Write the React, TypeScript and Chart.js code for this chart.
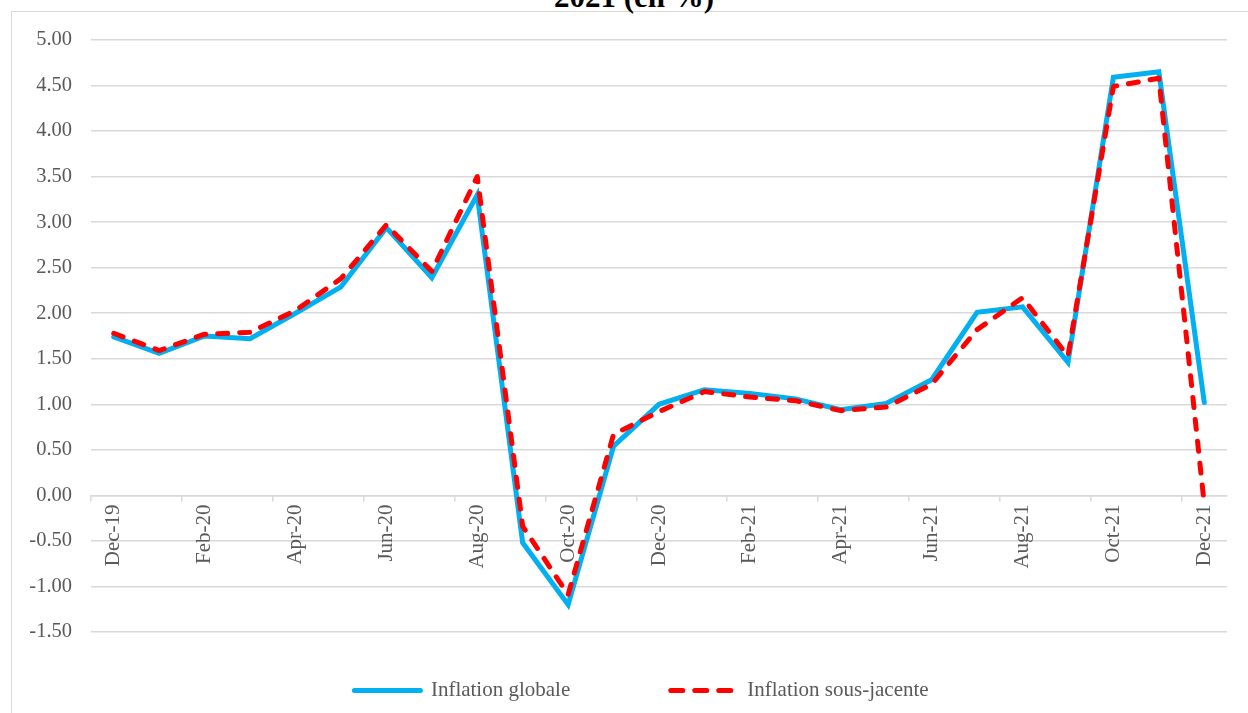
import React, { useEffect, useRef } from 'react';
import { Chart, registerables } from 'chart.js';

Chart.register(...registerables);

const categories = [
  'Dec-19', 'Jan-20', 'Feb-20', 'Mar-20', 'Apr-20', 'May-20', 'Jun-20', 'Jul-20', 'Aug-20',
  'Sep-20', 'Oct-20', 'Nov-20', 'Dec-20', 'Jan-21', 'Feb-21', 'Mar-21', 'Apr-21', 'May-21',
  'Jun-21', 'Jul-21', 'Aug-21', 'Sep-21', 'Oct-21', 'Nov-21', 'Dec-21',
];

const inflationGlobale = [
  1.74, 1.56, 1.75, 1.72, 2.0, 2.29, 2.94, 2.39, 3.3, -0.52, -1.2, 0.54, 1.0,
  1.16, 1.12, 1.06, 0.94, 1.01, 1.27, 2.01, 2.07, 1.46, 4.59, 4.65, 1.02,
];

const inflationSousJacente = [
  1.78, 1.59, 1.77, 1.79, 2.03, 2.38, 2.97, 2.46, 3.5, -0.34, -1.09, 0.67, 0.92,
  1.14, 1.08, 1.04, 0.93, 0.97, 1.22, 1.82, 2.17, 1.53, 4.49, 4.58, -0.1,
];

const seriesNames = ['Inflation globale', 'Inflation sous-jacente'];
const titleText = '2021 (en %)';
const yMin = -1.5;
const yMax = 5;
const yStep = 0.5;

const FONT = "'Liberation Serif', 'Times New Roman', serif";
const GRID = '#d9d9d9';
const TEXT = '#595959';
const BLUE = '#00B0F0';
const RED = '#FF0000';
const LINE_W = 5;
const DASH = [10, 12];
const LEGEND_DASH = [12, 12];

const legendShift: any = {
  id: 'legendShift',
  afterLayout(c: any) {
    if (c.legend) {
      c.legend.left += 28;
      c.legend.right += 28;
    }
  },
};

export default function App() {
  const ref = useRef<HTMLCanvasElement>(null);

  useEffect(() => {
    document.body.style.margin = '0';
    const canvas = ref.current;
    if (!canvas) return;
    const chart = new Chart(canvas, {
      type: 'line',
      data: {
        labels: categories,
        datasets: [
          {
            label: seriesNames[0],
            data: inflationGlobale,
            borderColor: BLUE,
            backgroundColor: BLUE,
            borderWidth: LINE_W,
            pointRadius: 0,
            tension: 0,
            borderJoinStyle: 'miter',
            borderCapStyle: 'round',
            order: 1,
          },
          {
            label: seriesNames[1],
            data: inflationSousJacente,
            borderColor: RED,
            backgroundColor: RED,
            borderWidth: LINE_W,
            borderDash: DASH,
            borderCapStyle: 'round',
            borderJoinStyle: 'round',
            pointRadius: 0,
            tension: 0,
            order: 0,
          },
        ],
      },
      plugins: [legendShift],
      options: {
        animation: false,
        responsive: false,
        maintainAspectRatio: false,
        layout: { padding: { left: 0, right: 21, top: 40, bottom: 2 } },
        plugins: {
          tooltip: { enabled: false },
          title: { display: false },
          legend: {
            position: 'bottom',
            title: {
              display: true,
              text: ' ',
              font: { size: 10, lineHeight: 1 },
              padding: { top: 0, bottom: 26 },
            },
            labels: {
              usePointStyle: true,
              pointStyle: 'line',
              pointStyleWidth: 66,
              padding: 12,
              color: TEXT,
              font: { family: FONT, size: 21 },
              generateLabels: () => {
                const blue: any = {
                  text: seriesNames[0],
                  fillStyle: 'rgba(0,0,0,0)',
                  strokeStyle: BLUE,
                  lineWidth: LINE_W,
                  lineCap: 'round',
                  lineDash: [],
                  pointStyle: 'line',
                  fontColor: TEXT,
                  hidden: false,
                  datasetIndex: 0,
                };
                const spacer: any = {
                  text: '',
                  fillStyle: 'rgba(0,0,0,0)',
                  strokeStyle: 'rgba(0,0,0,0)',
                  lineWidth: 0,
                  pointStyle: 'line',
                  hidden: false,
                };
                const red: any = {
                  text: seriesNames[1],
                  fillStyle: 'rgba(0,0,0,0)',
                  strokeStyle: RED,
                  lineWidth: LINE_W,
                  lineCap: 'round',
                  lineDash: LEGEND_DASH,
                  pointStyle: 'line',
                  fontColor: TEXT,
                  hidden: false,
                  datasetIndex: 1,
                };
                return [blue, spacer, red];
              },
            },
          },
        },
        scales: {
          x: {
            type: 'category',
            position: { y: 0 } as any,
            offset: true,
            grid: {
              display: true,
              offset: true,
              drawOnChartArea: false,
              drawTicks: true,
              tickLength: 5,
              lineWidth: 1.5,
              color: (ctx: any) =>
                typeof ctx.index === 'number' && ctx.index % 2 === 0 ? GRID : 'rgba(0,0,0,0)',
            },
            border: { display: true, color: GRID, width: 1.5 },
            ticks: {
              autoSkip: false,
              minRotation: 90,
              maxRotation: 90,
              padding: 4,
              color: TEXT,
              font: { family: FONT, size: 21 },
              callback: function (this: any, value: any, index: number) {
                return index % 2 === 0 ? this.getLabelForValue(value) : '';
              },
            },
          },
          y: {
            min: yMin,
            max: yMax,
            afterFit: (scale: any) => {
              scale.width = 91;
            },
            grid: {
              color: GRID,
              lineWidth: 1.5,
              drawTicks: false,
            },
            border: { display: false },
            ticks: {
              stepSize: yStep,
              padding: 19,
              color: TEXT,
              font: { family: FONT, size: 20.5 },
              callback: (v: any) => Number(v).toFixed(2),
            },
          },
        },
      },
    });
    return () => chart.destroy();
  }, []);

  return (
    <div
      style={{
        position: 'relative',
        width: 1248,
        height: 713,
        overflow: 'hidden',
        background: '#ffffff',
      }}
    >
      <div
        style={{
          position: 'absolute',
          left: 11,
          top: 11,
          width: 1400,
          height: 900,
          borderLeft: `1.5px solid ${GRID}`,
          borderTop: `1.5px solid ${GRID}`,
        }}
      />
      <div
        style={{
          position: 'absolute',
          left: 0,
          top: -19,
          width: 1268,
          textAlign: 'center',
          fontFamily: FONT,
          fontWeight: 'bold',
          fontSize: 31,
          lineHeight: '31px',
          color: '#000',
          whiteSpace: 'nowrap',
        }}
      >
        {titleText}
      </div>
      <canvas
        ref={ref}
        width={1248}
        height={713}
        style={{ position: 'absolute', left: 0, top: 0, width: 1248, height: 713 }}
      />
    </div>
  );
}
